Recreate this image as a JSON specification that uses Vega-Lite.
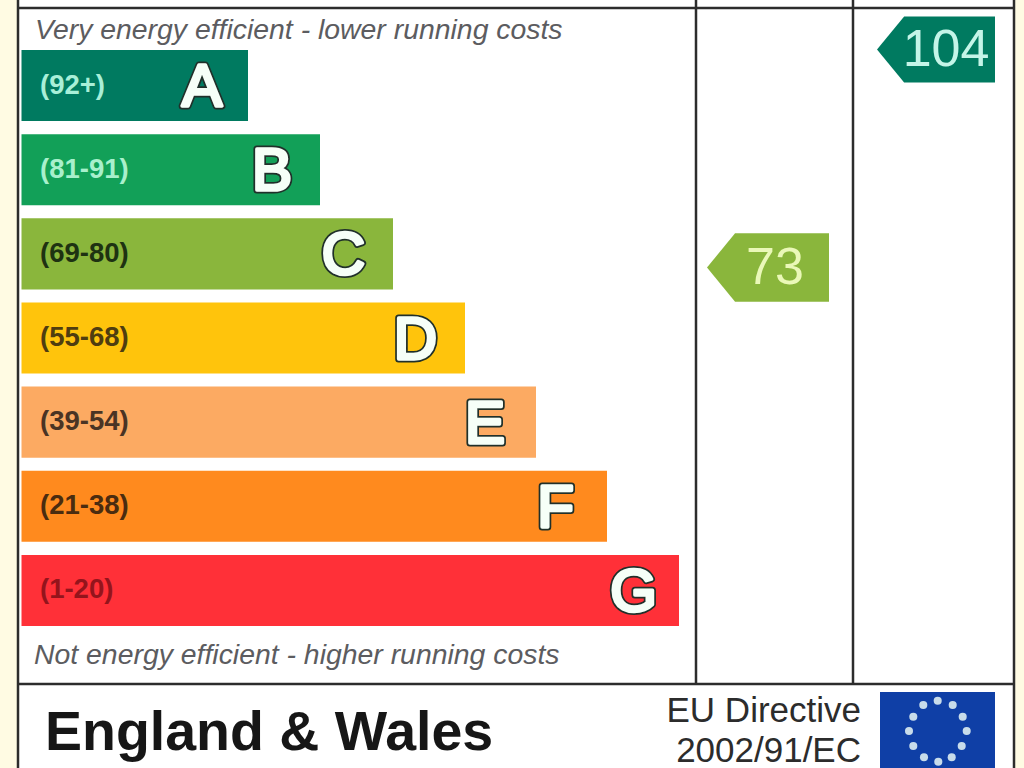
{"$schema":"https://vega.github.io/schema/vega-lite/v6.json","width":1024,"height":768,"autosize":{"type":"none"},"padding":0,"background":"#fffbe3","view":{"stroke":null},
"datasets":{
"bands":[{"band":"A","range":"(92+)","start":21.5,"end":248,"letterEnd":222},{"band":"B","range":"(81-91)","start":21.5,"end":320,"letterEnd":292},{"band":"C","range":"(69-80)","start":21.5,"end":393,"letterEnd":365},{"band":"D","range":"(55-68)","start":21.5,"end":465,"letterEnd":437},{"band":"E","range":"(39-54)","start":21.5,"end":536,"letterEnd":505},{"band":"F","range":"(21-38)","start":21.5,"end":607,"letterEnd":574},{"band":"G","range":"(1-20)","start":21.5,"end":679,"letterEnd":657}],
"panel":[{"left":18,"right":1014,"top":0,"bottom":768}],
"vlines":[{"x":18,"top":0,"bottom":768},{"x":696,"top":0,"bottom":684},{"x":853,"top":0,"bottom":684},{"x":1014,"top":0,"bottom":768}],
"hlines":[{"y":8,"left":18,"right":1014},{"y":684,"left":18,"right":1014}],
"scores":[{"score":104,"band":"A","x":936,"y":49.5,"textX":946,"textY":50},{"score":73,"band":"C","x":768,"y":267.5,"textX":775,"textY":268}],
"notes":[{"text":"Very energy efficient - lower running costs","x":35,"y":30},{"text":"Not energy efficient - higher running costs","x":34,"y":655}],
"titles":[{"text":"EU Directive","x":861,"y":711},{"text":"2002/91/EC","x":861,"y":751}],
"country":[{"text":"England & Wales","x":45,"y":733}],
"flag":[{"left":880,"right":995,"top":692,"bottom":768}],
"stars":[{"x":937.7,"y":700.7},{"x":952.7,"y":705},{"x":962.7,"y":716.7},{"x":966.7,"y":731},{"x":961.7,"y":746},{"x":951.7,"y":757.3},{"x":938.3,"y":761.7},{"x":924,"y":757.3},{"x":913.3,"y":746},{"x":909,"y":731},{"x":913.3,"y":716.7},{"x":923.3,"y":705}]
},
"resolve":{"scale":{"y":"independent","color":"independent"}},
"layer":[
{"data":{"name":"panel"},"mark":{"type":"rect","fill":"#ffffff"},"encoding":{"x":{"field":"left","type":"quantitative","scale":{"domain":[0,1024],"nice":false,"zero":false},"axis":null},"x2":{"field":"right"},"y":{"field":"top","type":"quantitative","scale":{"domain":[0,768],"reverse":true,"nice":false,"zero":false},"axis":null},"y2":{"field":"bottom"}}},
{"data":{"name":"bands"},"mark":{"type":"bar"},"encoding":{"x":{"field":"start","type":"quantitative","axis":null},"x2":{"field":"end"},"y":{"field":"band","type":"nominal","axis":null,"scale":{"type":"band","domain":["A","B","C","D","E","F","G"],"range":[50,626],"paddingInner":0.155,"paddingOuter":0}},"color":{"field":"band","type":"nominal","legend":null,"scale":{"domain":["A","B","C","D","E","F","G"],"range":["#007a60","#12a058","#8ab63c","#ffc40c","#fcaa62","#ff8a1e","#ff3038"]}}}},
{"data":{"name":"bands"},"mark":{"type":"text","x":40,"align":"left","baseline":"middle","font":"Liberation Sans","fontWeight":"bold","fontSize":27.5},"encoding":{"text":{"field":"range"},"y":{"field":"band","type":"nominal","axis":null,"scale":{"type":"band","domain":["A","B","C","D","E","F","G"],"range":[50,626],"paddingInner":0.155,"paddingOuter":0}},"color":{"field":"band","type":"nominal","legend":null,"scale":{"domain":["A","B","C","D","E","F","G"],"range":["#a8efd8","#a8f0cc","#1e3212","#4f3d10","#4a3424","#4a2c10","#94141c"]}}}},
{"data":{"name":"bands"},"mark":{"type":"text","align":"right","baseline":"middle","font":"Liberation Sans","fontSize":60,"fill":"#20302a","stroke":"#20302a","strokeWidth":7,"strokeJoin":"round"},"encoding":{"text":{"field":"band"},"x":{"field":"letterEnd","type":"quantitative","axis":null},"y":{"field":"band","type":"nominal","axis":null,"scale":{"type":"band","domain":["A","B","C","D","E","F","G"],"range":[52.5,628.5],"paddingInner":0.155,"paddingOuter":0}}}},
{"data":{"name":"bands"},"mark":{"type":"text","align":"right","baseline":"middle","font":"Liberation Sans","fontSize":60,"fill":"#f6fff8","stroke":"#f6fff8","strokeWidth":3.5,"strokeJoin":"round"},"encoding":{"text":{"field":"band"},"x":{"field":"letterEnd","type":"quantitative","axis":null},"y":{"field":"band","type":"nominal","axis":null,"scale":{"type":"band","domain":["A","B","C","D","E","F","G"],"range":[52.5,628.5],"paddingInner":0.155,"paddingOuter":0}}}},
{"data":{"name":"vlines"},"mark":{"type":"rule","color":"#2c2c2c","strokeWidth":2.5},"encoding":{"x":{"field":"x","type":"quantitative","axis":null},"y":{"field":"top","type":"quantitative","scale":{"domain":[0,768],"reverse":true,"nice":false,"zero":false},"axis":null},"y2":{"field":"bottom"}}},
{"data":{"name":"hlines"},"mark":{"type":"rule","color":"#2c2c2c","strokeWidth":2.5},"encoding":{"x":{"field":"left","type":"quantitative","axis":null},"x2":{"field":"right"},"y":{"field":"y","type":"quantitative","scale":{"domain":[0,768],"reverse":true,"nice":false,"zero":false},"axis":null}}},
{"data":{"name":"scores"},"mark":{"type":"point","filled":true,"opacity":1,"shape":"M-1 0 L-0.54 -0.56 L1 -0.56 L1 0.56 L-0.54 0.56 Z"},"encoding":{"x":{"field":"x","type":"quantitative","axis":null},"y":{"field":"y","type":"quantitative","scale":{"domain":[0,768],"reverse":true,"nice":false,"zero":false},"axis":null},"size":{"field":"score","type":"quantitative","legend":null,"scale":{"domain":[73,104],"range":[14884,13924],"zero":false}},"color":{"field":"band","type":"nominal","legend":null,"scale":{"domain":["A","C"],"range":["#007a60","#8ab63c"]}}}},
{"data":{"name":"scores"},"mark":{"type":"text","align":"center","baseline":"middle","font":"Liberation Sans","fontSize":52},"encoding":{"text":{"field":"score","type":"quantitative"},"x":{"field":"textX","type":"quantitative","axis":null},"y":{"field":"textY","type":"quantitative","scale":{"domain":[0,768],"reverse":true,"nice":false,"zero":false},"axis":null},"color":{"field":"band","type":"nominal","legend":null,"scale":{"domain":["A","C"],"range":["#c4f5e8","#eaf8b8"]}}}},
{"data":{"name":"notes"},"mark":{"type":"text","align":"left","baseline":"middle","font":"Liberation Sans","fontStyle":"italic","fontSize":28.4,"fill":"#5c5c60"},"encoding":{"text":{"field":"text"},"x":{"field":"x","type":"quantitative","axis":null},"y":{"field":"y","type":"quantitative","scale":{"domain":[0,768],"reverse":true,"nice":false,"zero":false},"axis":null}}},
{"data":{"name":"country"},"mark":{"type":"text","align":"left","baseline":"middle","font":"Liberation Sans","fontWeight":"bold","fontSize":55.5,"fill":"#161616"},"encoding":{"text":{"field":"text"},"x":{"field":"x","type":"quantitative","axis":null},"y":{"field":"y","type":"quantitative","scale":{"domain":[0,768],"reverse":true,"nice":false,"zero":false},"axis":null}}},
{"data":{"name":"titles"},"mark":{"type":"text","align":"right","baseline":"middle","font":"Liberation Sans","fontSize":35,"fill":"#2c2c2c"},"encoding":{"text":{"field":"text"},"x":{"field":"x","type":"quantitative","axis":null},"y":{"field":"y","type":"quantitative","scale":{"domain":[0,768],"reverse":true,"nice":false,"zero":false},"axis":null}}},
{"data":{"name":"flag"},"mark":{"type":"rect","fill":"#0f3fa6"},"encoding":{"x":{"field":"left","type":"quantitative","axis":null},"x2":{"field":"right"},"y":{"field":"top","type":"quantitative","scale":{"domain":[0,768],"reverse":true,"nice":false,"zero":false},"axis":null},"y2":{"field":"bottom"}}},
{"data":{"name":"stars"},"mark":{"type":"point","filled":true,"opacity":1,"shape":"circle","size":65,"color":"#c8dcea"},"encoding":{"x":{"field":"x","type":"quantitative","axis":null},"y":{"field":"y","type":"quantitative","scale":{"domain":[0,768],"reverse":true,"nice":false,"zero":false},"axis":null}}}
]}
